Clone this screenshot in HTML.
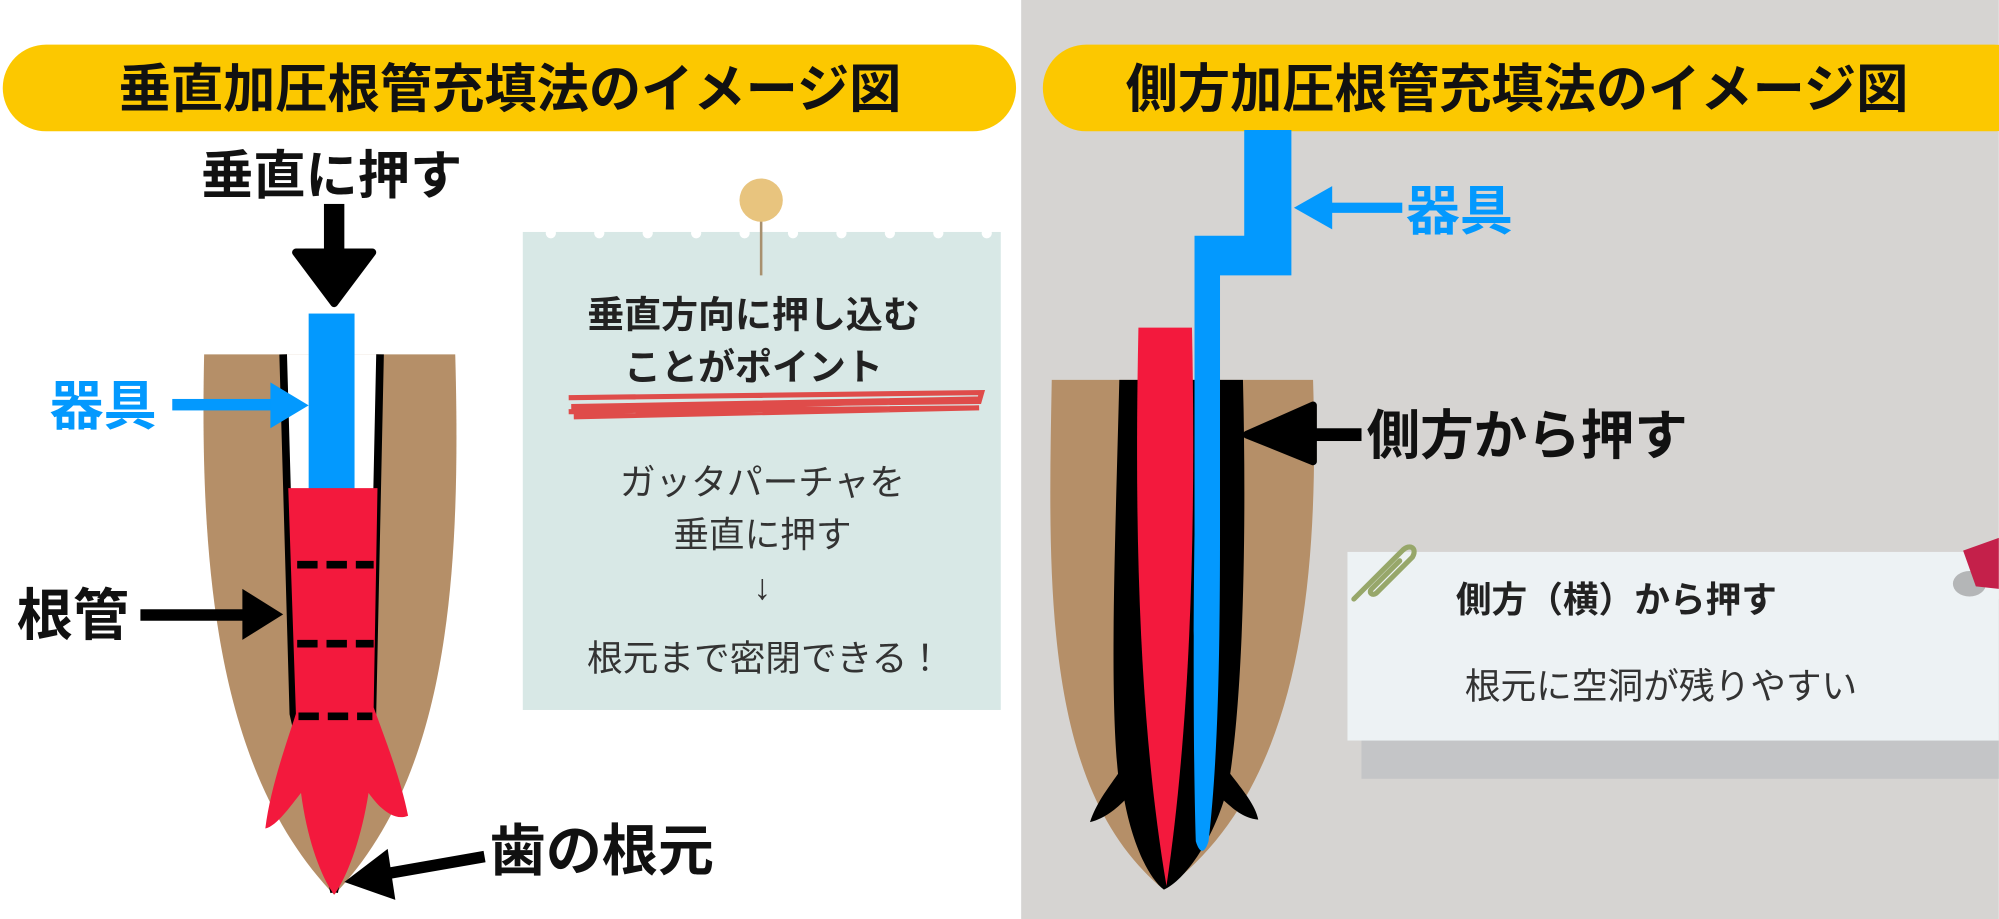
<!DOCTYPE html>
<html><head><meta charset="utf-8"><style>
html,body{margin:0;padding:0;background:#fff;}
svg{display:block;}
text{font-family:"Liberation Sans","Noto Sans CJK JP",sans-serif;}
</style></head><body>
<svg width="1999" height="919" viewBox="0 0 1568 721" xmlns="http://www.w3.org/2000/svg">
<rect x="0" y="0" width="801" height="721" fill="#ffffff"/>
<rect x="801" y="0" width="767" height="721" fill="#d6d4d2"/>
<!-- banners -->
<rect x="2" y="35" width="795" height="68" rx="34" fill="#fcc800"/>
<text x="400" y="84" font-size="41" font-weight="bold" text-anchor="middle" fill="#111">垂直加圧根管充填法のイメージ図</text>
<rect x="818" y="35" width="780" height="68" rx="34" fill="#fcc800"/>
<text x="1190" y="84" font-size="41" font-weight="bold" text-anchor="middle" fill="#111">側方加圧根管充填法のイメージ図</text>

<!-- LEFT tooth -->
<text x="260" y="152" font-size="41" font-weight="bold" text-anchor="middle" fill="#111">垂直に押す</text>
<rect x="254" y="160" width="16" height="45" fill="#000"/>
<path d="M232,198 L292,198 L262,238 Z" fill="#000" stroke="#000" stroke-width="6" stroke-linejoin="round"/>
<path d="M160,278 L357,278 C362,460 350,610 262,702 C174,610 156,460 160,278 Z" fill="#b58f68"/>
<path d="M222,278 L298,278 L292,560 L262,700 L230,560 Z" fill="#fff"/>
<path d="M222,278 L230,560 L262,700" fill="none" stroke="#000" stroke-width="6"/>
<path d="M298,278 L292,560 L262,700" fill="none" stroke="#000" stroke-width="6"/>
<rect x="242" y="246" width="36" height="138" fill="#0399fe"/>
<path d="M226,383 L296,383 L293,555 C302,580 314,610 320,640 C308,645 296,632 289,622 C283,660 272,688 262,702 C252,688 241,660 236,622 C228,632 217,648 208,650 C212,618 224,585 232,560 Z" fill="#f3193d"/>
<g stroke="#000" stroke-width="6">
<line x1="233" y1="443" x2="293" y2="443" stroke-dasharray="16,7"/>
<line x1="233" y1="505" x2="293" y2="505" stroke-dasharray="16,7"/>
<line x1="234" y1="562" x2="292" y2="562" stroke-dasharray="16,7"/>
</g>
<text x="81" y="333" font-size="42" font-weight="bold" text-anchor="middle" fill="#0399fe">器具</text>
<rect x="135" y="313" width="80" height="9" fill="#0399fe"/>
<path d="M212,300 L242,318 L212,336 Z" fill="#0399fe"/>
<text x="57" y="498" font-size="44" font-weight="bold" text-anchor="middle" fill="#111">根管</text>
<rect x="110" y="478" width="85" height="9" fill="#000"/>
<path d="M190,462 L222,482 L190,502 Z" fill="#000"/>
<text x="472" y="683" font-size="44" font-weight="bold" text-anchor="middle" fill="#111">歯の根元</text>
<line x1="380" y1="672" x2="300" y2="686" stroke="#000" stroke-width="9"/>
<path d="M304,666 L270,692 L310,706 Z" fill="#000"/>

<!-- note left -->
<rect x="410" y="182" width="375" height="375" fill="#d8e8e6"/>
<g fill="#fff">
<circle cx="432" cy="183" r="4"/><circle cx="470" cy="183" r="4"/><circle cx="508" cy="183" r="4"/><circle cx="546" cy="183" r="4"/><circle cx="584" cy="183" r="4"/><circle cx="622" cy="183" r="4"/><circle cx="660" cy="183" r="4"/><circle cx="698" cy="183" r="4"/><circle cx="736" cy="183" r="4"/><circle cx="774" cy="183" r="4"/>
</g>
<line x1="597" y1="160" x2="597" y2="216" stroke="#a8906e" stroke-width="2"/>
<circle cx="597" cy="157" r="17" fill="#e8c47e"/>
<text x="591" y="257" font-size="29" font-weight="bold" text-anchor="middle" fill="#222">垂直方向に押し込む</text>
<text x="591" y="298" font-size="29" font-weight="bold" text-anchor="middle" fill="#222">ことがポイント</text>
<path d="M446,312 L770,308 L768,315 L448,319 L770,313 L446,323 L768,320 L450,327" fill="none" stroke="#e0302e" stroke-width="4" opacity="0.85"/>
<text x="598" y="388" font-size="28" text-anchor="middle" fill="#333">ガッタパーチャを</text>
<text x="598" y="429" font-size="28" text-anchor="middle" fill="#333">垂直に押す</text>
<text x="598" y="470" font-size="28" text-anchor="middle" fill="#333">↓</text>
<text x="600" y="526" font-size="28" text-anchor="middle" fill="#333">根元まで密閉できる！</text>

<!-- RIGHT tooth -->
<path d="M825,298 L1030,298 C1035,460 1020,620 913,698 C818,620 822,460 825,298 Z" fill="#b58f68"/>
<path d="M878,298 L975,298 C978,420 975,540 965,607 C975,620 985,632 987,643 C975,642 967,634 960,628 C950,660 930,690 913,698 C900,688 888,660 882,628 C876,634 867,642 855,645 C860,630 868,620 877,607 C870,540 875,420 878,298 Z" fill="#000"/>
<path d="M893,257 L935,257 C938,400 935,560 915,695 C892,560 890,400 893,257 Z" fill="#f3193d"/>
<path d="M976,102 L1013,102 L1013,216 L957,216 L957,420 C957,520 955,600 948,660 C945,670 941,670 938,660 C935,560 937,420 937,420 L937,185 L976,185 Z" fill="#0399fe"/>
<rect x="1040" y="159" width="60" height="8" fill="#0399fe"/>
<path d="M1045,146 L1015,163 L1045,180 Z" fill="#0399fe"/>
<text x="1145" y="180" font-size="42" font-weight="bold" text-anchor="middle" fill="#0399fe">器具</text>
<rect x="1030" y="336" width="38" height="10" fill="#000"/>
<path d="M1030,318 L978,341 L1030,362 Z" fill="#000" stroke="#000" stroke-width="6" stroke-linejoin="round"/>
<text x="1198" y="356" font-size="42" font-weight="bold" text-anchor="middle" fill="#111">側方から押す</text>

<!-- note right -->
<rect x="1068" y="470" width="500" height="141" fill="#c4c5c7"/>
<rect x="1057" y="433" width="511" height="148" fill="#edf2f4"/>
<path d="M1062,470 L1100,432 C1106,426 1112,430 1108,437 L1080,465 C1077,468 1073,465 1076,462 L1098,440" fill="none" stroke="#97a76a" stroke-width="4" stroke-linecap="round"/>
<ellipse cx="1545" cy="458" rx="13" ry="10" fill="#8e8e8e" opacity="0.6"/>
<path d="M1540,432 L1568,422 L1568,462 L1550,460 Z" fill="#c4204a"/>
<text x="1268" y="480" font-size="28" font-weight="bold" text-anchor="middle" fill="#222">側方（横）から押す</text>
<text x="1303" y="548" font-size="28" text-anchor="middle" fill="#333">根元に空洞が残りやすい</text>
</svg>
</body></html>
